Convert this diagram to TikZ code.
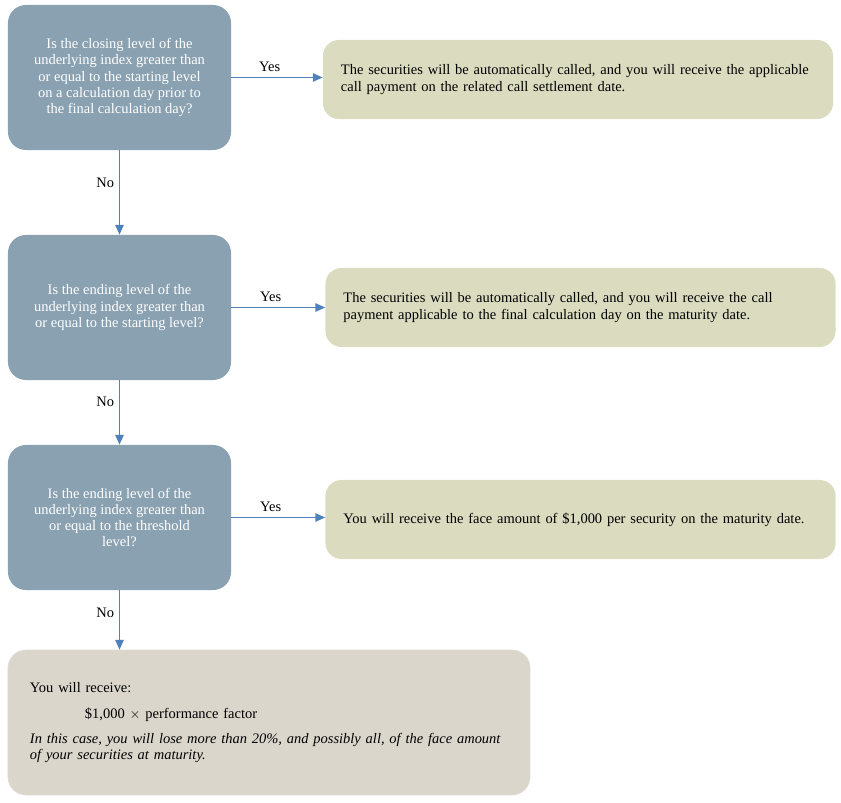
\documentclass[tikz,border=0pt]{standalone}
\usepackage{fontspec}
\setmainfont{Liberation Serif}
\usetikzlibrary{arrows.meta}
\definecolor{askblue}{HTML}{8AA1B1}
\definecolor{payolive}{HTML}{DBDBC0}
\definecolor{lossgrey}{HTML}{DAD6CB}
\definecolor{flowline}{HTML}{4F81BD}
\begin{document}
\begin{tikzpicture}[x=0.025cm,y=-0.025cm,
  every node/.style={font=\fontsize{10.3}{11.6}\selectfont,text=black},
  ask/.style={fill=askblue,rounded corners=0.45cm,text=white,align=center,
    minimum width=5.575cm,minimum height=3.625cm},
  pay/.style={fill=payolive,rounded corners=0.4cm,align=left,inner xsep=0.45cm,
    text width=11.85cm,minimum height=1.975cm},
  link/.style={flowline,line width=1pt,-{Triangle[length=7pt,width=6pt]}}]
\useasboundingbox (0,0) rectangle (841,802);
% questions
\node[ask] (ask1) at (119.5,77.5) {Is the closing level of the\\underlying index greater than\\or equal to the starting level\\on a calculation day prior to\\the final calculation day?};
\node[ask] (ask2) at (119.5,307.5) {Is the ending level of the\\underlying index greater than\\or equal to the starting level?};
\node[ask] (ask3) at (119.5,517.5) {Is the ending level of the\\underlying index greater than\\or equal to the threshold\\level?};
% outcomes
\node[pay] (pay1) at (578,79.5) {The securities will be automatically called, and you will receive the applicable\\call payment on the related call settlement date.};
\node[pay] (pay2) at (580.5,307.5) {The securities will be automatically called, and you will receive the call\\payment applicable to the final calculation day on the maturity date.};
\node[pay] (pay3) at (580.5,519.5) {You will receive the face amount of \$1,000 per security on the maturity date.};
\node[fill=lossgrey,draw=lossgrey!80!white,rounded corners=0.45cm,align=left,inner xsep=0.55cm,
  text width=11.95cm,minimum height=3.625cm] (loss) at (269,722.5)
  {You will receive:\\[7pt]
   \hspace*{1.375cm}\$1,000 $\times$ performance factor\\[6pt]
   \textit{In this case, you will lose more than 20\%, and possibly all, of the face amount}\\
   \textit{of your securities at maturity.}};
% connectors
\draw[link] (ask1.east) -- node[above,pos=0.42] {Yes} (ask1.east -| pay1.west);
\draw[link] (ask2.east) -- node[above,pos=0.42] {Yes} (ask2.east -| pay2.west);
\draw[link] (ask3.east) -- node[above,pos=0.42] {Yes} (ask3.east -| pay3.west);
\draw[link] (ask1.south) -- node[left,pos=0.38] {No} (ask2.north);
\draw[link] (ask2.south) -- node[left,pos=0.34] {No} (ask3.north);
\draw[link] (ask3.south) -- node[left,pos=0.38] {No} (ask3.south |- loss.north);
\end{tikzpicture}
\end{document}
